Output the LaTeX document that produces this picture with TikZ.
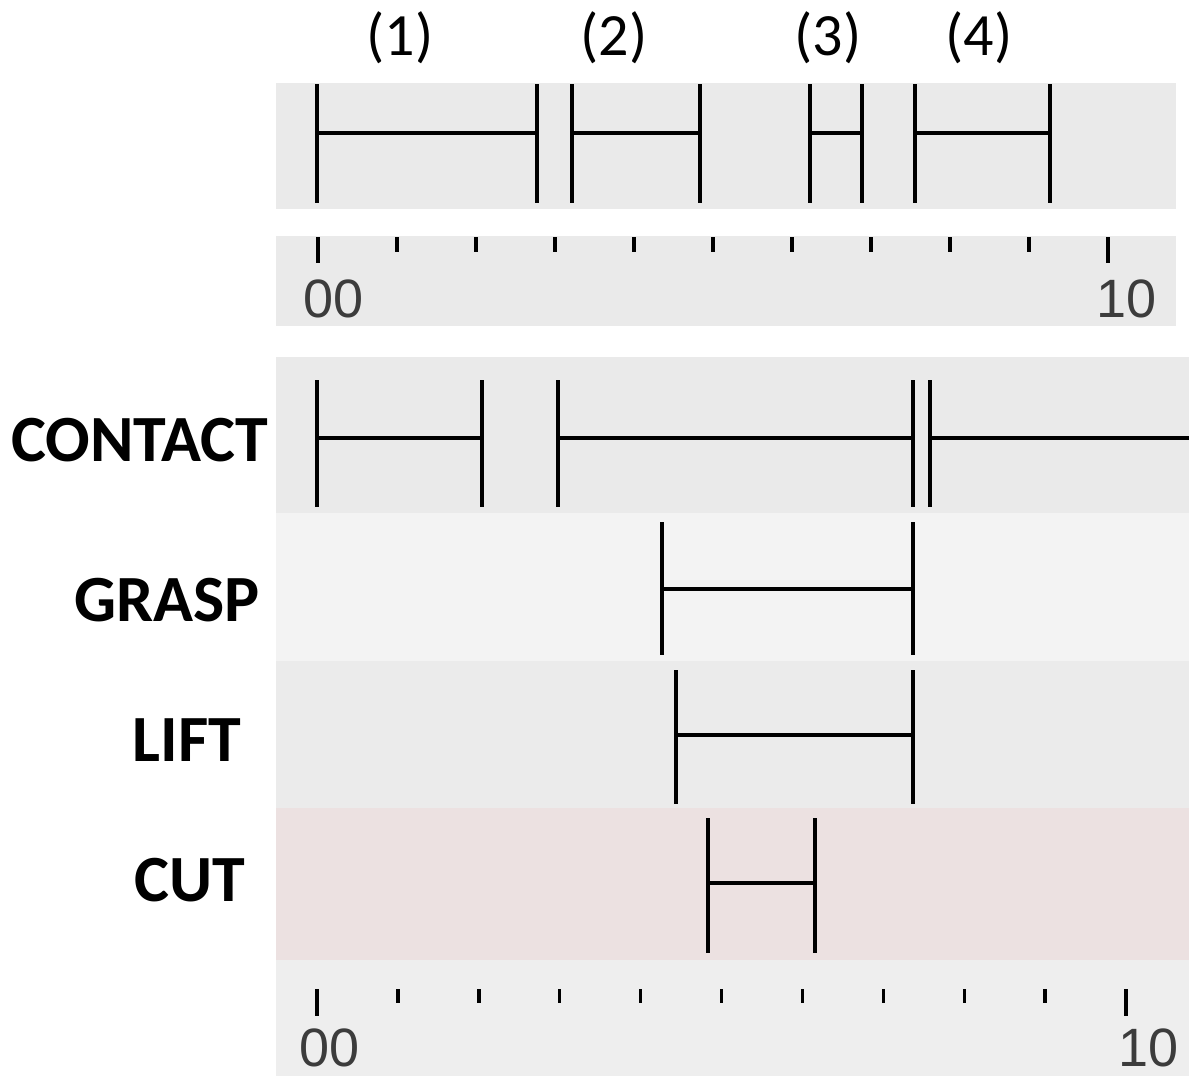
\documentclass[tikz,border=0pt]{standalone}
\usepackage{fontspec}
\setmainfont{Carlito}
\newfontfamily\axisfont{Liberation Sans}
\definecolor{bandA}{HTML}{EAEAEA}
\definecolor{bandB}{HTML}{F3F3F3}
\definecolor{bandC}{HTML}{EBEBEB}
\definecolor{bandCut}{HTML}{ECE1E1}
\definecolor{bandAxis}{HTML}{EEEEEE}
\definecolor{axisnum}{HTML}{3C3C3C}
% interval: x-left, x-right, y-top, y-bottom, y of the connecting bar
\newcommand\spanbar[5]{%
  \draw[bar] (#1,#3) -- (#1,#4) (#2,#3) -- (#2,#4) (#1,#5) -- (#2,#5);}
\begin{document}
\begin{tikzpicture}[x=1pt,y=-1pt,
  bar/.style={line width=3.4pt,black},
  tickmark/.style={line width=3.4pt,black},
  numlabel/.style={font=\axisfont\fontsize{54}{58}\selectfont,text=axisnum,inner sep=0pt},
  seglabel/.style={font=\fontsize{60}{64}\selectfont,inner sep=0pt},
  rowlabel/.style={font=\bfseries\fontsize{66}{72}\selectfont,inner sep=0pt}]
\useasboundingbox (0,0) rectangle (1189,1076);
\fill[white] (0,0) rectangle (1189,1076);

% ---- upper chart: segments ----
\fill[bandA] (276,83) rectangle (1176,209);
\spanbar{317}{537}{84}{203}{133}
\spanbar{572}{700}{84}{203}{133}
\spanbar{810}{862}{84}{203}{133}
\spanbar{915}{1050}{84}{203}{133}

% ---- upper time axis ----
\fill[bandA] (276,236) rectangle (1176,326);
\foreach \i in {1,...,9} \draw[tickmark] ({318+79*\i},237) -- ({318+79*\i},252);
\draw[tickmark] (318,237) -- (318,263);
\draw[tickmark] (1108,237) -- (1108,263);
\node[numlabel,anchor=base west] (t0) at (303,317) {00};
\node[numlabel,anchor=base east] (t10) at (1157,317) {10};

% ---- segment labels ----
\node[seglabel] (s1) at (400,38) {(1)};
\node[seglabel] (s2) at (614,38) {(2)};
\node[seglabel] (s3) at (828,38) {(3)};
\node[seglabel] (s4) at (979,38) {(4)};

% ---- lower chart: rows ----
\fill[bandA] (276,357) rectangle (1189,513);
\fill[bandB] (276,513) rectangle (1189,661);
\fill[bandC] (276,661) rectangle (1189,808);
\fill[bandCut] (276,808) rectangle (1189,960);
\fill[bandAxis] (276,960) rectangle (1189,1076);

% CONTACT
\spanbar{317}{482}{380}{507}{438}
\spanbar{558}{913}{380}{507}{438}
\draw[bar] (930,380) -- (930,507) (930,438) -- (1189,438);
% GRASP
\spanbar{662}{913}{522}{655}{589}
% LIFT
\spanbar{676}{913}{670}{804}{735}
% CUT
\spanbar{708}{815}{818}{953}{883}

% ---- lower time axis ----
\foreach \i in {1,...,9} \draw[tickmark] ({317+80.9*\i},989) -- ({317+80.9*\i},1003);
\draw[tickmark] (317,989) -- (317,1016);
\draw[tickmark] (1126,989) -- (1126,1016);
\node[numlabel,anchor=base west] (b0) at (299,1066) {00};
\node[numlabel,anchor=base east] (b10) at (1179,1066) {10};

% ---- row labels ----
\node[rowlabel] (contact) at (140,440) {CONTACT};
\node[rowlabel] (grasp) at (167,600) {GRASP};
\node[rowlabel] (lift) at (187,740) {LIFT};
\node[rowlabel] (cut) at (190,880) {CUT};
\end{tikzpicture}
\end{document}
